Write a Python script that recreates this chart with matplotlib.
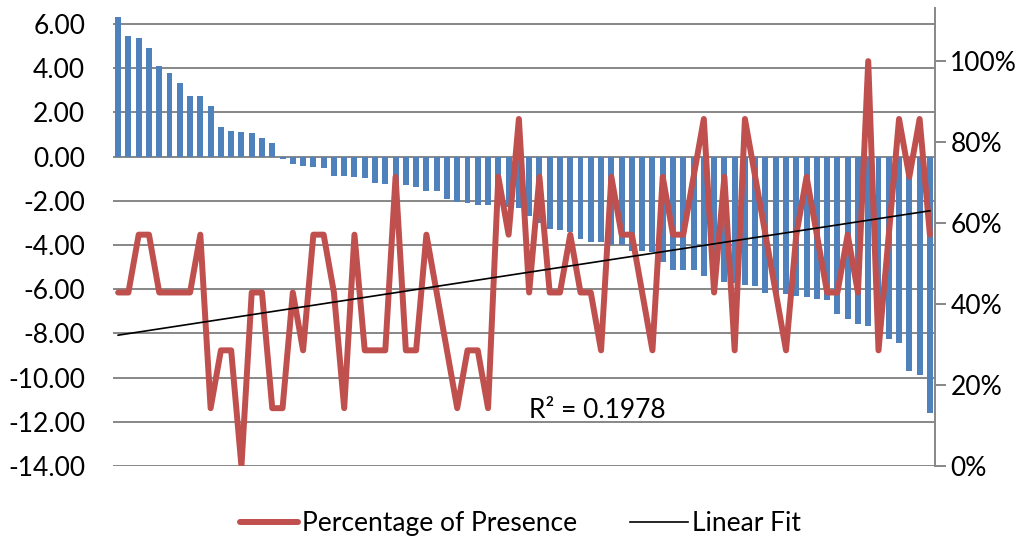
import numpy as np
import matplotlib
matplotlib.use("Agg")
from matplotlib import pyplot as plt
from matplotlib.lines import Line2D

plt.rcParams['font.family'] = ['Lato', 'DejaVu Sans']

# bar values (left axis), sorted descending
bar_values = [6.31, 5.48, 5.36, 4.92, 4.08, 3.79, 3.35, 2.75, 2.75, 2.30,
              1.36, 1.16, 1.10, 1.06, 0.82, 0.60, -0.12, -0.33, -0.42, -0.48,
              -0.53, -0.88, -0.88, -0.92, -0.97, -1.18, -1.22, -1.25, -1.28, -1.39,
              -1.54, -1.54, -1.93, -2.04, -2.11, -2.18, -2.18, -2.20, -2.30, -2.34,
              -2.67, -3.00, -3.28, -3.32, -3.40, -3.72, -3.88, -3.88, -4.00, -4.00,
              -4.26, -4.26, -4.30, -4.76, -5.11, -5.11, -5.11, -5.39, -5.40, -5.66,
              -5.70, -5.79, -5.85, -6.15, -6.15, -6.20, -6.30, -6.34, -6.44, -6.50,
              -7.13, -7.37, -7.58, -7.67, -7.90, -8.26, -8.43, -9.71, -9.86, -11.60]

# presence counts out of 7 (right axis)
presence_sevenths = [3, 3, 4, 4, 3, 3, 3, 3, 4, 1,
                     2, 2, 0, 3, 3, 1, 1, 3, 2, 4,
                     4, 3, 1, 4, 2, 2, 2, 5, 2, 2,
                     4, 3, 2, 1, 2, 2, 1, 5, 4, 6,
                     3, 5, 3, 3, 4, 3, 3, 2, 5, 4,
                     4, 3, 2, 5, 4, 4, 5, 6, 3, 5,
                     2, 6, 5, 4, 3, 2, 4, 5, 4, 3,
                     3, 4, 3, 7, 2, 4, 6, 5, 6, 4]

left_ticks = [6, 4, 2, 0, -2, -4, -6, -8, -10, -12, -14]
right_ticks = [0, 0.2, 0.4, 0.6, 0.8, 1.0]
r2_label = "R\u00b2 = 0.1978"

x = np.arange(1, len(bar_values) + 1)
pct = np.array(presence_sevenths) / 7.0
fs = 19

fig = plt.figure(figsize=(10.31, 5.40), dpi=100)
ax = fig.add_axes([0.1096, 0.137, 0.7973, 0.848])
ax2 = ax.twinx()

grid_c = '#878787'
ax.set_axisbelow(True)
for t in left_ticks:
    ax.axhline(t, color=grid_c, lw=1.4, zorder=0)
ax.bar(x, bar_values, width=0.58, color='#4F81BD', zorder=2)
ax.set_xlim(0.5, len(x) + 0.5)
ax.set_ylim(-14, 6.72)
ax.set_yticks(left_ticks)
ax.set_yticklabels(["%.2f" % t for t in left_ticks], fontsize=fs)
ax.tick_params(axis='y', length=0, pad=20)
ax.set_xticks([])
for s in ax.spines.values():
    s.set_visible(False)

ax2.plot(x, pct, color='#C0504D', lw=4.3, solid_joinstyle='round',
         solid_capstyle='round', zorder=3)
coef = np.polyfit(x, pct, 1)
fit_x = np.array([x[0], x[-1]])
ax2.plot(fit_x, np.polyval(coef, fit_x), color='black', lw=1.2, zorder=4)
ax2.set_ylim(0, 1.131)
ax2.set_yticks(right_ticks)
ax2.set_yticklabels(["%d%%" % round(t * 100) for t in right_ticks], fontsize=fs)
ax2.tick_params(axis='y', length=8, width=1.4, color=grid_c, pad=3)
for k, s in ax2.spines.items():
    s.set_visible(k == 'right')
ax2.spines['right'].set_color(grid_c)
ax2.spines['right'].set_linewidth(1.4)

ax.text(0.589, 0.122, r2_label, transform=ax.transAxes, ha='center', va='center',
        fontsize=fs)

handles = [Line2D([], [], color='#C0504D', lw=4.3, solid_capstyle='round'),
           Line2D([], [], color='black', lw=1.2)]
fig.legend(handles, ["Percentage of Presence", "Linear Fit"], loc='center',
           bbox_to_anchor=(0.505, 0.03), ncol=2, frameon=False, fontsize=fs,
           handlelength=2.2, handletextpad=0.15, columnspacing=2.0)

fig.savefig("out.png", dpi=100)
